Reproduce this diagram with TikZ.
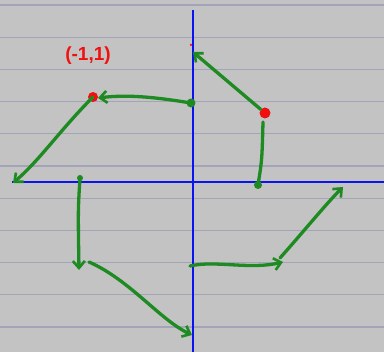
\documentclass[tikz,border=0pt]{standalone}
\usepackage{fontspec}
\setmainfont{Liberation Sans}
\usetikzlibrary{arrows.meta}
\definecolor{paper}{HTML}{C3C3C3}
\definecolor{rule}{HTML}{A4A4B8}
\definecolor{pen}{HTML}{1E8A22}
\definecolor{axis}{HTML}{0A14F0}
\definecolor{redink}{HTML}{F01010}
\tikzset{
  penline/.style={draw=pen,line width=3.3pt,line cap=round,line join=round},
  pentip/.style={-{Straight Barb[length=7pt,width=12pt,line width=2.6pt]}},
  axisline/.style={draw=axis,line width=1.8pt},
  ruleline/.style={draw=rule,line width=1.3pt},
  dotmark/.style={circle,fill=pen,inner sep=0pt,minimum size=8pt},
  redmark/.style={circle,fill=redink,inner sep=0pt,minimum size=10pt},
}
\begin{document}
\begin{tikzpicture}[x=1pt,y=-1pt]
\useasboundingbox (0,0) rectangle (384,352);
\fill[paper] (0,0) rectangle (384,352);
\foreach \k in {0,...,10} {\draw[ruleline] (0,5+32.2*\k) -- (384,5+32.2*\k);}
% axes
\coordinate (ytop) at (193,10);
\coordinate (ybot) at (193,352);
\coordinate (xl) at (12,182);
\coordinate (xr) at (384,182);
\draw[axisline] (ytop) -- (ybot);
\draw[axisline] (xl) -- (xr);
% label
\node[text=redink,font=\bfseries\fontsize{19}{19}\selectfont] (lab) at (88,56) {(-1,1)};
% points
\node[redmark,minimum size=11pt] (star) at (265,113) {};
\node[text=redink,font=\fontsize{20}{20}\selectfont\bfseries] (starx) at (265,117) {*};
\node[circle,fill=redink,inner sep=0pt,minimum size=2.5pt] (tip) at (191,45) {};
\node[dotmark] (p1) at (258,185) {};
\coordinate (top) at (193,52);
\node[dotmark,minimum size=9pt] (p2) at (191,103) {};
\node[redmark] (q) at (93,97) {};
\coordinate (left) at (13,183);
\node[dotmark,minimum size=6pt] (p3) at (80,178) {};
\coordinate (down) at (79,270);
\coordinate (s) at (89,262);
\coordinate (bot) at (192,335);
\coordinate (m) at (190,266);
\coordinate (mr) at (283,262);
\coordinate (rs) at (280,258);
\coordinate (right) at (343,187);
% strokes
\draw[penline] (p1.center) .. controls (262,160) .. (263,122);
\draw[penline,pentip] (star) -- (top);
\draw[penline,pentip] (p2.center) .. controls (160,98) and (130,94) .. (98,98);
\draw[penline,pentip] (q.center) .. controls (60,130) and (40,160) .. (left);
\draw[penline,pentip] (p3.center) .. controls (78,210) .. (down);
\draw[penline,pentip] (s) .. controls (130,280) and (160,320) .. (bot);
\draw[penline,pentip] (m) .. controls (215,260) and (250,270) .. (mr);
\draw[penline,pentip] (rs) .. controls (305,230) and (325,205) .. (right);
\end{tikzpicture}
\end{document}
